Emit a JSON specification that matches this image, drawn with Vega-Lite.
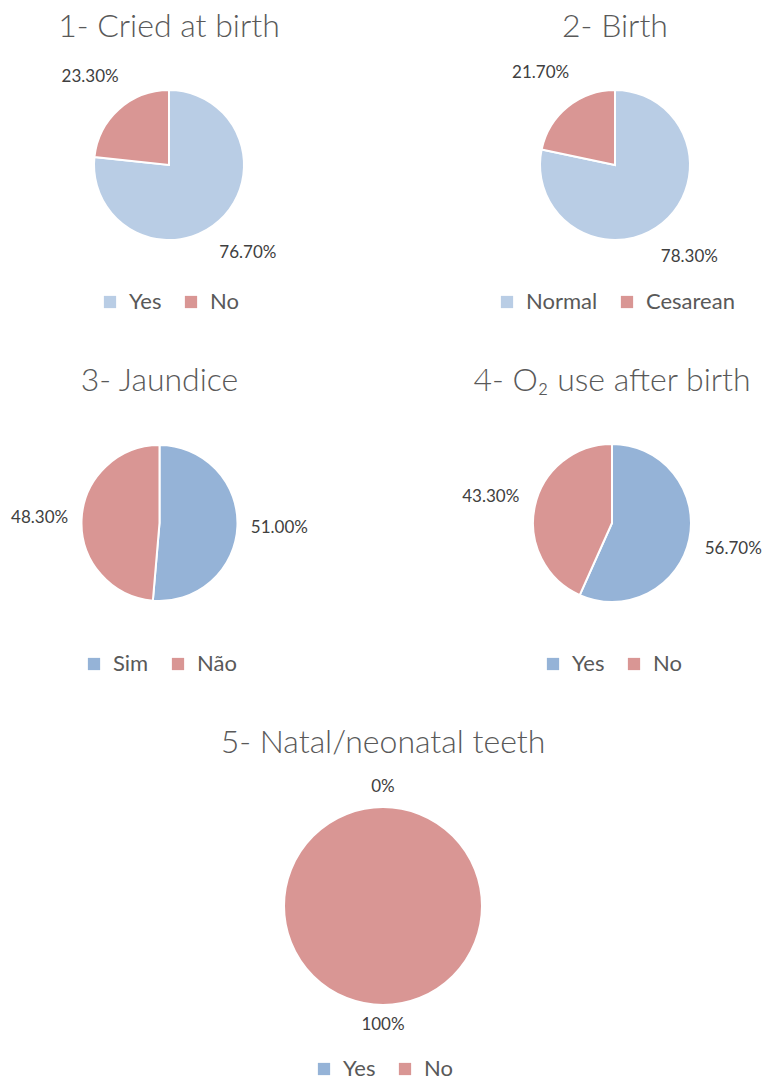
{
  "$schema": "https://vega.github.io/schema/vega-lite/v6.json",
  "padding": {"top": 11, "left": 0, "right": 0, "bottom": 0},
  "background": "white",
  "datasets": {
    "p1": [
      {"category": "Yes", "value": 76.7, "ord": 1, "label": "76.70%"},
      {"category": "No", "value": 23.3, "ord": 2, "label": "23.30%"}
    ],
    "p2": [
      {"category": "Normal", "value": 78.3, "ord": 1, "label": "78.30%"},
      {"category": "Cesarean", "value": 21.7, "ord": 2, "label": "21.70%"}
    ],
    "p3": [
      {"category": "Sim", "value": 51.0, "ord": 1, "label": "51.00%"},
      {"category": "Não", "value": 48.3, "ord": 2, "label": "48.30%"}
    ],
    "p4": [
      {"category": "Yes", "value": 56.7, "ord": 1, "label": "56.70%"},
      {"category": "No", "value": 43.3, "ord": 2, "label": "43.30%"}
    ],
    "p5": [
      {"category": "Yes", "value": 0, "ord": 1, "label": "0%"},
      {"category": "No", "value": 100, "ord": 2, "label": "100%"}
    ]
  },
  "spacing": 52,
  "resolve": {"scale": {"color": "independent"}, "legend": {"color": "independent"}},
  "vconcat": [
    {
      "hconcat": [
        {
          "width": 338, "height": 224,
          "title": {"text": "1- Cried at birth", "offset": 9},
          "data": {"name": "p1"},
          "encoding": {
            "theta": {"field": "value", "type": "quantitative", "stack": true},
            "order": {"field": "ord", "type": "quantitative"}
          },
          "layer": [
            {"mark": {"type": "arc", "outerRadius": 75, "stroke": "white", "strokeWidth": 2},
             "encoding": {"color": {"field": "category", "type": "nominal", "sort": ["Yes", "No"],
               "scale": {"domain": ["Yes", "No"], "range": ["#B9CDE5", "#D99694"]},
               "legend": {"offset": 14}}}},
            {"mark": {"type": "text", "radius": 118, "fontSize": 17, "fill": "#404040", "font": "Lato", "align": "center", "baseline": "middle"},
             "encoding": {"detail": {"field": "category", "type": "nominal"}, "text": {"field": "label", "type": "nominal"}}}
          ]
        },
        {
          "width": 300, "height": 224,
          "title": {"text": "2- Birth", "offset": 9},
          "data": {"name": "p2"},
          "encoding": {
            "theta": {"field": "value", "type": "quantitative", "stack": true},
            "order": {"field": "ord", "type": "quantitative"}
          },
          "layer": [
            {"mark": {"type": "arc", "outerRadius": 75, "stroke": "white", "strokeWidth": 2},
             "encoding": {"color": {"field": "category", "type": "nominal", "sort": ["Normal", "Cesarean"],
               "scale": {"domain": ["Normal", "Cesarean"], "range": ["#B9CDE5", "#D99694"]},
               "legend": {"offset": 14}}}},
            {"mark": {"type": "text", "radius": 118, "fontSize": 17, "fill": "#404040", "font": "Lato", "align": "center", "baseline": "middle"},
             "encoding": {"detail": {"field": "category", "type": "nominal"}, "text": {"field": "label", "type": "nominal"}}}
          ]
        }
      ],
      "spacing": 127,
      "bounds": "flush",
      "resolve": {"scale": {"color": "independent"}, "legend": {"color": "independent"}}
    },
    {
      "hconcat": [
        {
          "width": 319, "height": 224,
          "title": {"text": "3- Jaundice", "offset": 13},
          "data": {"name": "p3"},
          "encoding": {
            "theta": {"field": "value", "type": "quantitative", "stack": true},
            "order": {"field": "ord", "type": "quantitative"}
          },
          "layer": [
            {"mark": {"type": "arc", "outerRadius": 78, "stroke": "white", "strokeWidth": 2},
             "encoding": {"color": {"field": "category", "type": "nominal", "sort": ["Sim", "Não"],
               "scale": {"domain": ["Sim", "Não"], "range": ["#95B3D7", "#D99694"]},
               "legend": {"offset": 18}}}},
            {"mark": {"type": "text", "radius": 120, "fontSize": 17, "fill": "#404040", "font": "Lato", "align": "center", "baseline": "middle"},
             "encoding": {"detail": {"field": "category", "type": "nominal"}, "text": {"field": "label", "type": "nominal"}}}
          ]
        },
        {
          "width": 300, "height": 224,
          "title": {"text": "4- O₂ use after birth", "offset": 13},
          "data": {"name": "p4"},
          "encoding": {
            "theta": {"field": "value", "type": "quantitative", "stack": true},
            "order": {"field": "ord", "type": "quantitative"}
          },
          "layer": [
            {"mark": {"type": "arc", "outerRadius": 79, "stroke": "white", "strokeWidth": 2},
             "encoding": {"color": {"field": "category", "type": "nominal", "sort": ["Yes", "No"],
               "scale": {"domain": ["Yes", "No"], "range": ["#95B3D7", "#D99694"]},
               "legend": {"offset": 18}}}},
            {"mark": {"type": "text", "radius": 124, "fontSize": 17, "fill": "#404040", "font": "Lato", "align": "center", "baseline": "middle"},
             "encoding": {"detail": {"field": "category", "type": "nominal"}, "text": {"field": "label", "type": "nominal"}}}
          ]
        }
      ],
      "spacing": 143,
      "bounds": "flush",
      "resolve": {"scale": {"color": "independent"}, "legend": {"color": "independent"}}
    },
    {
      "width": 766, "height": 274,
      "title": {"text": "5- Natal/neonatal teeth", "offset": 9},
      "data": {"name": "p5"},
      "encoding": {
        "theta": {"field": "value", "type": "quantitative", "stack": true},
        "order": {"field": "ord", "type": "quantitative"}
      },
      "layer": [
        {"mark": {"type": "arc", "outerRadius": 99, "stroke": "white", "strokeWidth": 2},
         "encoding": {"color": {"field": "category", "type": "nominal", "sort": ["Yes", "No"],
           "scale": {"domain": ["Yes", "No"], "range": ["#95B3D7", "#D99694"]},
           "legend": {"offset": 15}}}},
        {"mark": {"type": "text", "radius": 119, "fontSize": 17, "fill": "#404040", "font": "Lato", "align": "center", "baseline": "middle"},
         "encoding": {"detail": {"field": "category", "type": "nominal"}, "text": {"field": "label", "type": "nominal"}}}
      ]
    }
  ],
  "config": {
    "view": {"stroke": null},
    "title": {"font": "Lato", "fontSize": 32, "fontWeight": 300, "color": "#595959", "anchor": "middle"},
    "legend": {
      "orient": "bottom",
      "direction": "horizontal",
      "title": null,
      "symbolType": "square",
      "symbolSize": 150,
      "symbolStrokeWidth": 0,
      "labelFont": "Lato",
      "labelFontSize": 22,
      "labelFontWeight": 400,
      "labelColor": "#595959",
      "labelOffset": 8,
      "columnPadding": 18,
      "layout": {"bottom": {"anchor": "middle"}}
    }
  }
}
